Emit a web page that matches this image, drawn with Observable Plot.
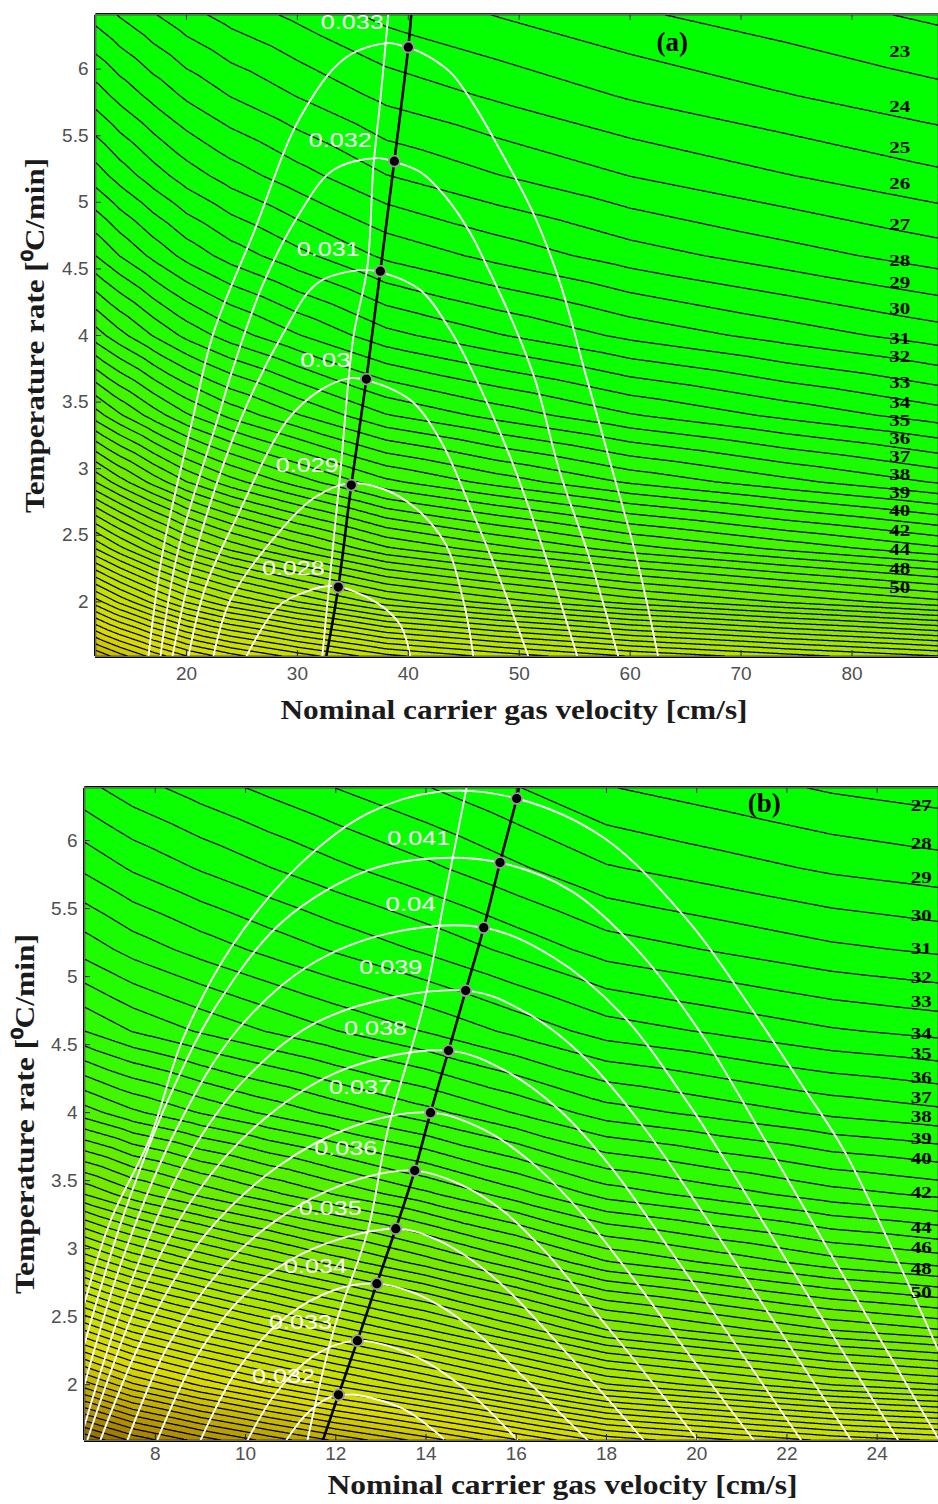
<!DOCTYPE html>
<html><head><meta charset="utf-8">
<script src="https://cdn.jsdelivr.net/npm/d3@7"></script>
<script src="https://cdn.jsdelivr.net/npm/@observablehq/plot@0.6"></script>
<style>
body{margin:0;background:#fff;width:938px;height:1504px;overflow:hidden}
.panel{width:938px;height:752px}
</style></head>
<body><div id="pa" class="panel"></div><div id="pb" class="panel"></div>
<script>
// ---------- Panel (a) ----------
const aVelTicks = [20, 30, 40, 50, 60, 70, 80];
const aRateTicks = [2, 2.5, 3, 3.5, 4, 4.5, 5, 5.5, 6];
const aVelCols = [11.8, 14, 17, 20, 24, 30, 38, 48, 60, 74, 87.8];
const aRateRows = [6.41, 5.8, 5.2, 4.6, 4.0, 3.4, 2.9, 2.4, 2.0, 1.59];
const aTimeGrid = [
  [29.6, 28.9, 28.07, 27.34, 26.6, 25.75, 24.7, 23.95, 23.15, 22.45, 21.8],
  [32.5, 31.67, 30.7, 29.83, 28.96, 27.96, 26.72, 25.84, 24.89, 24.06, 23.3],
  [35.5, 34.57, 33.48, 32.51, 31.53, 30.41, 29.03, 28.04, 26.98, 26.05, 25.2],
  [39.0, 37.97, 36.75, 35.67, 34.57, 33.32, 31.78, 30.67, 29.49, 28.45, 27.5],
  [43.5, 42.33, 40.95, 39.73, 38.5, 37.08, 35.34, 34.09, 32.75, 31.58, 30.5],
  [49.5, 48.15, 46.56, 45.15, 43.73, 42.09, 40.08, 38.64, 37.1, 35.75, 34.5],
  [56.0, 54.46, 52.65, 51.04, 49.42, 47.55, 45.26, 43.62, 41.86, 40.32, 38.9],
  [64.0, 62.31, 60.32, 58.55, 56.76, 54.71, 52.19, 50.39, 48.45, 46.76, 45.2],
  [71.5, 69.77, 67.74, 65.93, 64.11, 62.02, 59.44, 57.6, 55.62, 53.89, 52.3],
  [80.0, 78.48, 76.69, 75.1, 73.49, 71.65, 69.39, 67.76, 66.02, 64.5, 63.1]
];
const aTimeLabels = [23, 24, 25, 26, 27, 28, 29, 30, 31, 32, 33, 34, 35, 36, 37, 38, 39, 40, 42, 44, 48, 50];
const aTimeLabelRate = [6.128, 5.715, 5.407, 5.137, 4.829, 4.559, 4.393, 4.198, 3.973, 3.838, 3.643, 3.492, 3.357, 3.222, 3.087, 2.952, 2.817, 2.682, 2.532, 2.389, 2.246, 2.104];
const aTimeLabelVel = 84.3;
// white contours (resolution-type criterion)
const aWhiteLevels = ["0.028", "0.029", "0.03", "0.031", "0.032", "0.033"];
const aWhiteVel = [
  [25.41, 28.20, 30.72, 33.24, 37.21, 39.28, 40.18],
  [22.43, 23.96, 28.74, 31.62, 34.77, 39.28, 43.15, 44.95, 45.86],
  [20.18, 21.71, 24.41, 29.10, 32.07, 34.77, 36.22, 40.18, 42.88, 45.59, 48.29, 50.81],
  [18.74, 20.81, 24.86, 28.74, 31.80, 35.68, 37.48, 41.08, 43.78, 45.59, 49.19, 52.34, 55.23],
  [17.66, 19.19, 22.79, 24.23, 26.94, 30.0, 33.24, 37.21, 38.83, 41.08, 43.60, 45.59, 47.39, 49.46, 51.44, 53.69, 56.40, 58.92],
  [16.58, 17.84, 20.54, 22.43, 26.04, 30.27, 34.32, 38.20, 40.0, 41.08, 43.78, 45.77, 47.93, 51.26, 53.69, 56.13, 58.47, 60.63, 62.52]
];
const aWhiteRate = [
  [1.593, 1.961, 2.074, 2.119, 1.991, 1.826, 1.593],
  [1.593, 2.014, 2.562, 2.787, 2.892, 2.787, 2.464, 2.014, 1.593],
  [1.593, 2.111, 2.614, 3.365, 3.590, 3.680, 3.665, 3.515, 3.215, 2.712, 2.164, 1.593],
  [1.593, 2.366, 3.365, 4.018, 4.393, 4.491, 4.476, 4.341, 4.041, 3.763, 3.087, 2.351, 1.593],
  [1.593, 2.366, 3.365, 3.763, 4.393, 4.889, 5.242, 5.332, 5.302, 5.227, 5.017, 4.769, 4.469, 4.093, 3.665, 2.967, 2.314, 1.593],
  [1.593, 2.366, 3.365, 4.018, 4.769, 5.640, 6.083, 6.195, 6.158, 6.128, 5.977, 5.752, 5.444, 4.919, 4.393, 3.665, 2.967, 2.314, 1.593]
];
const aWhiteLabelVel = [29.64, 30.90, 32.52, 32.79, 33.87, 34.95];
const aWhiteLabelRate = [2.254, 3.027, 3.815, 4.649, 5.467, 6.35];
const aRidgeVel = [32.25, 32.97, 33.87, 35.05, 36.31, 36.85, 37.48, 38.20];
const aRidgeRate = [1.593, 2.216, 2.967, 3.988, 4.514, 5.264, 5.767, 6.413];
const aOptVel = [33.69, 34.86, 36.22, 37.48, 38.74, 40.0];
const aOptRate = [2.111, 2.877, 3.673, 4.483, 5.309, 6.165];
const aOptEndsVel = [32.61, 40.27];
const aOptEndsRate = [1.593, 6.413];

// ---------- Panel (b) ----------
const bVelTicks = [8, 10, 12, 14, 16, 18, 20, 22, 24];
const bRateTicks = [2, 2.5, 3, 3.5, 4, 4.5, 5, 5.5, 6];
const bVelCols = [6.43, 7.5, 9, 10.5, 12, 14, 16, 18, 20.5, 23, 25.36];
const bRateRows = [6.39, 5.8, 5.2, 4.6, 4.0, 3.4, 2.9, 2.4, 2.0, 1.59];
const bTimeGrid = [
  [34.3, 33.42, 32.52, 31.73, 30.98, 30.05, 29.05, 28.05, 27.45, 26.86, 26.5],
  [36.8, 35.85, 34.89, 34.04, 33.23, 32.23, 31.16, 30.09, 29.44, 28.81, 28.42],
  [39.6, 38.61, 37.6, 36.71, 35.86, 34.82, 33.69, 32.57, 31.89, 31.22, 30.82],
  [43.0, 41.95, 40.88, 39.94, 39.03, 37.93, 36.73, 35.54, 34.83, 34.12, 33.69],
  [48.5, 47.23, 45.94, 44.8, 43.71, 42.37, 40.93, 39.49, 38.62, 37.77, 37.25],
  [56.0, 54.39, 52.76, 51.32, 49.94, 48.25, 46.43, 44.61, 43.51, 42.43, 41.78],
  [64.0, 62.04, 60.04, 58.29, 56.61, 54.54, 52.32, 50.1, 48.77, 47.45, 46.65],
  [73.0, 70.75, 68.46, 66.45, 64.52, 62.15, 59.61, 57.06, 55.53, 54.02, 53.1],
  [80.5, 78.19, 75.84, 73.77, 71.78, 69.35, 66.73, 64.11, 62.54, 60.98, 60.04],
  [89.0, 86.84, 84.65, 82.73, 80.88, 78.61, 76.17, 73.72, 72.26, 70.81, 69.93]
];
const bTimeLabels = [27, 28, 29, 30, 31, 32, 33, 34, 35, 36, 37, 38, 39, 40, 42, 44, 46, 48, 50];
const bTimeLabelRate = [6.257, 5.978, 5.728, 5.449, 5.206, 4.993, 4.816, 4.581, 4.434, 4.257, 4.110, 3.971, 3.809, 3.662, 3.412, 3.154, 3.007, 2.853, 2.676];
const bTimeLabelVel = 24.98;
const bWhiteLevels = ["0.032", "0.033", "0.034", "0.035", "0.036", "0.037", "0.038", "0.039", "0.04", "0.041", "0.042"];
const bWhiteVel = [
  [10.9, 11.4, 12.06, 13.44, 14.39],
  [10.04, 10.7, 11.6, 12.48, 13.82, 14.99, 16.04],
  [9.0, 9.8, 10.9, 12.0, 12.91, 13.66, 14.36, 15.06, 15.81, 16.7, 17.59],
  [8.04, 8.9, 10.1, 11.5, 13.33, 14.21, 15.04, 15.86, 16.74, 17.8, 18.83],
  [7.38, 8.3, 9.6, 11.1, 12.6, 13.75, 14.75, 15.7, 16.64, 17.64, 18.84, 20.03],
  [6.78, 7.8, 9.1, 10.7, 12.4, 14.1, 15.25, 16.32, 17.4, 18.55, 19.9, 21.27],
  [6.49, 7.6, 8.9, 10.4, 12.2, 14.5, 15.75, 16.92, 18.1, 19.35, 20.83, 22.32],
  [6.43, 7.4, 8.6, 10.0, 11.8, 14.88, 16.25, 17.53, 18.81, 20.18, 21.8, 23.43],
  [6.43, 7.3, 8.5, 9.8, 11.4, 13.2, 15.28, 16.83, 18.32, 19.81, 21.0, 22.7, 24.47],
  [6.43, 7.3, 8.40, 9.38, 10.84, 12.71, 14.2, 15.64, 17.21, 18.70, 20.16, 21.65, 23.6, 25.38],
  [6.43, 7.0, 7.89, 8.62, 9.73, 11.22, 12.71, 14.3, 16.01, 17.94, 19.81, 21.14, 22.38, 23.27, 24.4, 25.36]
];
const bWhiteRate = [
  [1.59, 1.8, 1.926, 1.831, 1.603],
  [1.59, 1.95, 2.23, 2.324, 2.199, 1.934, 1.588],
  [1.59, 2.1, 2.5, 2.7, 2.743, 2.685, 2.57, 2.40, 2.17, 1.88, 1.59],
  [1.59, 2.2, 2.7, 3.0, 3.147, 3.07, 2.91, 2.68, 2.37, 1.98, 1.59],
  [1.59, 2.3, 2.9, 3.3, 3.52, 3.574, 3.475, 3.28, 2.98, 2.58, 2.09, 1.59],
  [1.59, 2.4, 3.1, 3.6, 3.9, 4.0, 3.88, 3.64, 3.28, 2.8, 2.19, 1.59],
  [1.59, 2.6, 3.4, 3.95, 4.32, 4.456, 4.31, 4.03, 3.6, 3.02, 2.31, 1.59],
  [1.7, 2.7, 3.6, 4.25, 4.7, 4.897, 4.73, 4.40, 3.90, 3.24, 2.42, 1.59],
  [2.0, 2.95, 3.9, 4.6, 5.08, 5.32, 5.36, 5.14, 4.73, 4.07, 3.45, 2.53, 1.59],
  [2.3, 3.25, 4.18, 4.80, 5.41, 5.78, 5.87, 5.838, 5.632, 5.191, 4.551, 3.72, 2.6, 1.59],
  [2.6, 3.2, 3.82, 4.55, 5.24, 5.83, 6.2, 6.36, 6.309, 6.02, 5.41, 4.80, 4.18, 3.72, 2.95, 2.25]
];
const bWhiteLabelText = ["0.032", "0.033", "0.034", "0.035", "0.036", "0.037", "0.038", "0.039", "0.04", "0.041"];
const bWhiteLabelVel = [10.84, 11.22, 11.55, 11.88, 12.22, 12.55, 12.88, 13.22, 13.66, 13.84];
const bWhiteLabelRate = [2.059, 2.456, 2.868, 3.294, 3.735, 4.184, 4.618, 5.066, 5.529, 6.015];
const bRidgeVel = [11.37, 11.95, 12.71, 13.15, 13.95, 14.39, 14.90];
const bRidgeRate = [1.588, 2.397, 3.132, 3.868, 4.801, 5.537, 6.39];
const bOptVel = [12.06, 12.48, 12.91, 13.33, 13.75, 14.10, 14.50, 14.88, 15.28, 15.64, 16.01];
const bOptRate = [1.926, 2.324, 2.743, 3.147, 3.574, 4.0, 4.456, 4.897, 5.36, 5.838, 6.309];
const bOptEndsVel = [11.71, 16.06];
const bOptEndsRate = [1.588, 6.39];

// colour map of the filled background (analysis time)
const fillStops = [20, 35, 45, 55, 65, 75, 84, 92];
const fillColors = ["#00ff00", "#0cff00", "#3cf800", "#7ae800", "#b8e400", "#dada00", "#b09000", "#6a4800"];

const xTitle = "Nominal carrier gas velocity [cm/s]";
const yTitle = "Temperature rate [\u2070C/min]";

function gridPoints(rows, cols, grid) {
  const pts = [];
  rows.forEach((r, i) => cols.forEach((u, j) => pts.push({u, r, L: grid[i][j]})));
  return pts;
}
function curvePoints(levels, U, R) {
  const pts = [];
  levels.forEach((lev, k) => U[k].forEach((u, i) => pts.push({lev, u, r: R[k][i]})));
  return pts;
}
function pairs(U, R) { return U.map((u, i) => ({u, r: R[i]})); }

function panel(o) {
  const W = 938, H = 752;
  const fw = W - o.ml, fh = H - o.mt - o.mb;
  const serif = "'Liberation Serif', 'Times New Roman', serif";
  const sans = "'Liberation Sans', Arial, sans-serif";
  const ends = pairs(o.optEndsVel, o.optEndsRate);
  const opt = [ends[0], ...pairs(o.optVel, o.optRate), ends[1]];
  const svg = Plot.plot({
    width: W, height: H,
    marginLeft: o.ml, marginRight: 0, marginTop: o.mt, marginBottom: o.mb,
    x: {domain: o.xDomain, label: null},
    y: {domain: o.yDomain, label: null},
    color: {type: "linear", domain: fillStops, range: fillColors, clamp: true},
    style: {fontFamily: sans, fontSize: "18px", background: "white", overflow: "visible"},
    marks: [
      Plot.contour(gridPoints(o.rows, o.cols, o.grid), {
        x: "u", y: "r", value: "L", fill: "value", stroke: "#000", strokeWidth: 1.3,
        thresholds: d3.range(18, 96, 1), interpolate: "barycentric", pixelSize: 1
      }),
      Plot.line(curvePoints(o.wLevels, o.wVel, o.wRate), {x: "u", y: "r", z: "lev", stroke: "white", strokeWidth: 1.9, curve: "catmull-rom", clip: true}),
      Plot.line(pairs(o.ridgeVel, o.ridgeRate), {x: "u", y: "r", stroke: "white", strokeWidth: 1.9, curve: "catmull-rom", clip: true}),
      Plot.line(opt, {x: "u", y: "r", stroke: "#000", strokeWidth: 2.6, curve: "catmull-rom", clip: true}),
      Plot.dot(pairs(o.optVel, o.optRate), {x: "u", y: "r", r: 5.5, fill: "#000", stroke: "#9a9a9a", strokeWidth: 1.8}),
      Plot.text(o.wLabelText.map((t, i) => ({t, u: o.wLabelVel[i], r: o.wLabelRate[i]})), {
        x: "u", y: "r", text: "t", fill: "white", fontSize: 21, fontFamily: sans, textAnchor: "middle"
      }),
      Plot.text(o.tLabels.map((t, i) => ({t, r: o.tLabelRate[i]})), {
        x: () => o.tLabelVel, y: "r", text: "t", fill: "#000", fontSize: 16, fontWeight: "bold", fontFamily: serif
      }),
      Plot.text([o.tag], {x: () => o.tagPos[0], y: () => o.tagPos[1], text: d => d, fontSize: 27, fontWeight: "bold", fontFamily: serif, fill: "#000"}),
      Plot.axisX(o.xTicks, {anchor: "bottom", tickSize: 0, tickPadding: o.xPad, tickFormat: d => String(d), fill: "#505050", fontSize: 19, fontFamily: sans}),
      Plot.axisY(o.yTicks, {anchor: "left", tickSize: 0, tickPadding: 7, tickFormat: d => String(d), fill: "#505050", fontSize: 19, fontFamily: sans}),
      Plot.tickX(o.xTicks, {x: d => d, insetTop: fh - 6, stroke: "#222"}),
      Plot.tickX(o.xTicks, {x: d => d, insetBottom: fh - 6, stroke: "#222"}),
      Plot.tickY(o.yTicks, {y: d => d, insetRight: fw - 6, stroke: "#222"}),
      Plot.frame({stroke: "#6a6a6a", strokeWidth: 1.2}),
      Plot.text([xTitle], {frameAnchor: "bottom", dy: o.xTitleDy, dx: o.xTitleDx, text: d => d, fontSize: 27, fontWeight: "bold", fontFamily: serif, fill: "#1a1a1a"}),
      Plot.text([yTitle], {frameAnchor: "left", dx: o.yTitleDx, rotate: -90, text: d => d, fontSize: 27, fontWeight: "bold", fontFamily: serif, fill: "#1a1a1a"})
    ]
  });
  // stretch texts horizontally like the original rendering
  d3.select(svg).selectAll("text").each(function () {
    const s = this.textContent;
    const t = d3.select(this);
    const inTextMark = this.parentNode && this.parentNode.getAttribute("aria-label") === "text";
    if (s === xTitle) t.attr("textLength", o.xTitleLen).attr("lengthAdjust", "spacingAndGlyphs");
    else if (s === yTitle) t.attr("text-anchor", "start").attr("x", -o.yTitleLen / 2).attr("textLength", o.yTitleLen).attr("lengthAdjust", "spacingAndGlyphs");
    else if (/^0\.0/.test(s)) t.attr("textLength", s.length * 12.6).attr("lengthAdjust", "spacingAndGlyphs");
    else if (inTextMark && /^\d\d$/.test(s)) t.attr("textLength", 21).attr("lengthAdjust", "spacingAndGlyphs");
  });
  return svg;
}

document.getElementById("pa").append(panel({
  ml: 95, mt: 14, mb: 96, xDomain: [11.8, 87.8], yDomain: [1.59, 6.41],
  rows: aRateRows, cols: aVelCols, grid: aTimeGrid,
  wLevels: aWhiteLevels, wVel: aWhiteVel, wRate: aWhiteRate,
  wLabelText: aWhiteLevels, wLabelVel: aWhiteLabelVel, wLabelRate: aWhiteLabelRate,
  ridgeVel: aRidgeVel, ridgeRate: aRidgeRate,
  optVel: aOptVel, optRate: aOptRate, optEndsVel: aOptEndsVel, optEndsRate: aOptEndsRate,
  tLabels: aTimeLabels, tLabelRate: aTimeLabelRate, tLabelVel: aTimeLabelVel,
  tag: "(a)", tagPos: [63.8, 6.2],
  xTicks: aVelTicks, yTicks: aRateTicks, xPad: 10,
  xTitleDy: 62, xTitleDx: -3, yTitleDx: -60, xTitleLen: 467, yTitleLen: 355
}));
document.getElementById("pb").append(panel({
  ml: 84, mt: 35, mb: 64, xDomain: [6.43, 25.36], yDomain: [1.59, 6.39],
  rows: bRateRows, cols: bVelCols, grid: bTimeGrid,
  wLevels: bWhiteLevels, wVel: bWhiteVel, wRate: bWhiteRate,
  wLabelText: bWhiteLabelText, wLabelVel: bWhiteLabelVel, wLabelRate: bWhiteLabelRate,
  ridgeVel: bRidgeVel, ridgeRate: bRidgeRate,
  optVel: bOptVel, optRate: bOptRate, optEndsVel: bOptEndsVel, optEndsRate: bOptEndsRate,
  tLabels: bTimeLabels, tLabelRate: bTimeLabelRate, tLabelVel: bTimeLabelVel,
  tag: "(b)", tagPos: [21.5, 6.27],
  xTicks: bVelTicks, yTicks: bRateTicks, xPad: 6,
  xTitleDy: 53, xTitleDx: 51, yTitleDx: -59, xTitleLen: 470, yTitleLen: 360
}));
</script></body></html>
